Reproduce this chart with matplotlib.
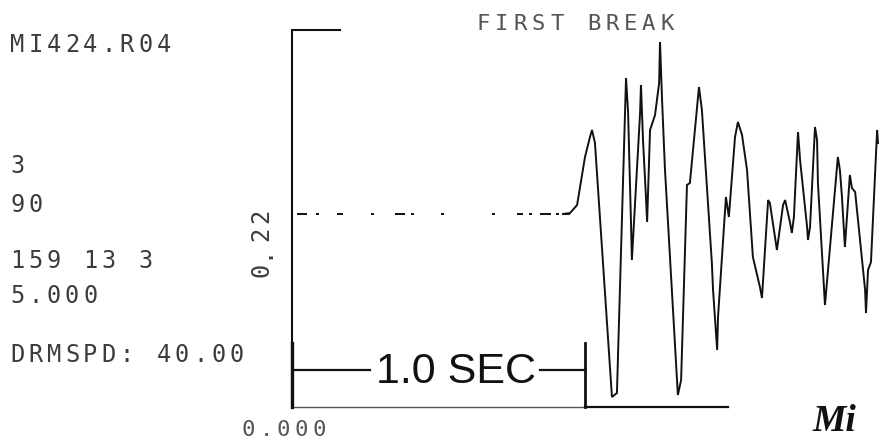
import matplotlib
matplotlib.use("Agg")
import matplotlib.pyplot as plt

W, H = 890, 441

# ---------------- data ----------------
header_lines = ["MI424.R04", "3", "90", "159 13 3", "5.000", "DRMSPD: 40.00"]
title = "FIRST BREAK"
y_label = "0.22"
x_label = "0.000"
scale_label = "1.0 SEC"
scale_seconds = 1.0

# pre-arrival baseline dashes (start, end) in seconds
baseline_dashes = [(0.017, 0.051), (0.082, 0.092), (0.154, 0.174), (0.270, 0.280),
                   (0.352, 0.386), (0.406, 0.416), (0.509, 0.519), (0.683, 0.693),
                   (0.768, 0.788), (0.809, 0.819), (0.846, 0.884), (0.901, 0.911),
                   (0.925, 0.949)]

trace_t = [0.925, 0.949, 0.973, 1.000, 1.017, 1.024, 1.034, 1.092, 1.109, 1.140,
           1.147, 1.157, 1.160, 1.188, 1.191, 1.198, 1.208, 1.212, 1.222, 1.239,
           1.253, 1.256, 1.263, 1.273, 1.314, 1.317, 1.328, 1.348, 1.358, 1.389,
           1.399, 1.433, 1.437, 1.451, 1.454, 1.481, 1.491, 1.512, 1.522, 1.536,
           1.553, 1.573, 1.597, 1.604, 1.625, 1.631, 1.655, 1.676, 1.683, 1.700,
           1.706, 1.713, 1.727, 1.734, 1.758, 1.761, 1.768, 1.785, 1.792, 1.795,
           1.819, 1.863, 1.870, 1.877, 1.887, 1.904, 1.911, 1.922, 1.956, 1.959,
           1.966, 1.976, 1.997, 2.000]
trace_a = [0.00, 0.01, 0.09, 0.57, 0.77, 0.84, 0.71, -1.83, -1.79, 1.36,
           1.02, -0.09, -0.46, 1.01, 1.29, 0.74, 0.17, -0.08, 0.84, 0.99,
           1.31, 1.72, 1.14, 0.44, -1.66, -1.81, -1.66, 0.29, 0.31, 1.27,
           1.04, -0.49, -0.76, -1.36, -1.03, 0.17, -0.03, 0.77, 0.92, 0.79,
           0.44, -0.43, -0.73, -0.84, 0.14, 0.11, -0.36, 0.09, 0.14, -0.09,
           -0.19, -0.03, 0.82, 0.54, -0.13, -0.26, -0.13, 0.87, 0.74, 0.31,
           -0.91, 0.57, 0.44, 0.17, -0.33, 0.39, 0.26, 0.22, -0.76, -0.99,
           -0.56, -0.48, 0.84, 0.71]

# ---------------- figure ----------------
fig = plt.figure(figsize=(W / 100, H / 100), dpi=100)
fig.patch.set_facecolor("white")

# axes occupying the plotting frame (pixel geometry)
x0, x1, ytop, ybot = 292, 890, 30, 407
ax = fig.add_axes([x0 / W, (H - ybot) / H, (x1 - x0) / W, (ybot - ytop) / H])
px_per_sec = 293.0
amp_scale = 100.0
ax.set_xlim(0, (x1 - x0) / px_per_sec)
ax.set_ylim((214 - ybot) / amp_scale, (214 - ytop) / amp_scale)
ax.axis("off")

ink = "#111111"
# frame pieces
ax.plot([0, 0], [0, 1], transform=ax.transAxes, color=ink, lw=1.5, clip_on=False,
        solid_capstyle="butt")
ax.plot([0, (340 - x0) / (x1 - x0)], [1, 1], transform=ax.transAxes, color=ink, lw=1.5,
        clip_on=False)
ax.plot([0, (583 - x0) / (x1 - x0)], [0, 0], transform=ax.transAxes, color="#555555",
        lw=1.0, clip_on=False)
ax.plot([(585 - x0) / (x1 - x0), (728 - x0) / (x1 - x0)], [0, 0], transform=ax.transAxes,
        color=ink, lw=1.6, clip_on=False)

# baseline before first break
for s, e in baseline_dashes:
    ax.plot([s, e], [0, 0], color=ink, lw=1.4, solid_capstyle="butt")

# seismic trace
ax.plot(trace_t, trace_a, color=ink, lw=1.4, solid_joinstyle="miter")

# 1.0 SEC scale bar
ylo = ax.get_ylim()[0]
bar_top = (214 - 343) / amp_scale
bar_mid = (214 - 370) / amp_scale
ax.plot([0, 0], [bar_top, ylo], color=ink, lw=2.4, clip_on=False)
ax.plot([scale_seconds, scale_seconds], [bar_top, ylo], color=ink, lw=2.0, clip_on=False)
ax.plot([0, (370 - x0) / px_per_sec], [bar_mid, bar_mid], color=ink, lw=1.6)
ax.plot([(540 - x0) / px_per_sec, scale_seconds], [bar_mid, bar_mid], color=ink, lw=1.6)
ax.text((456 - x0) / px_per_sec, (214 - 372) / amp_scale, scale_label,
        ha="center", va="center", fontsize=31, family="Liberation Sans", color=ink)

# dot-matrix style text helper
txt_col = "#3c3c3c"
def mono(x, ybase, s, adv=18.3, size=17, rot=0, color=txt_col):
    for i, c in enumerate(s):
        if c == " ":
            continue
        if rot == 0:
            fig.text((x + i * adv) / W, 1 - ybase / H, c, ha="left", va="baseline",
                     fontsize=size, family="DejaVu Sans Mono", color=color)
        else:
            fig.text(x / W, 1 - (ybase - i * adv) / H, c, ha="left", va="bottom",
                     rotation=90, rotation_mode="anchor", fontsize=size,
                     family="DejaVu Sans Mono", color=color)

header_base = [52, 173, 212, 268, 303, 362]
for line, yb in zip(header_lines, header_base):
    mono(10, yb, line)

mono(477, 30, title, adv=18.3, size=16, color="#555555")
mono(273, 277, y_label, adv=18.0, size=17, rot=90)
mono(242, 436, x_label, adv=17.5, size=16, color="#555555")

# partial stamp lettering at bottom right
fig.text(812 / W, 1 - 439 / H, "Mi", ha="left", va="bottom", fontsize=27,
         family="Liberation Serif", weight="bold", style="italic", color="#111111")

fig.savefig("out.png", dpi=100, facecolor="white")
